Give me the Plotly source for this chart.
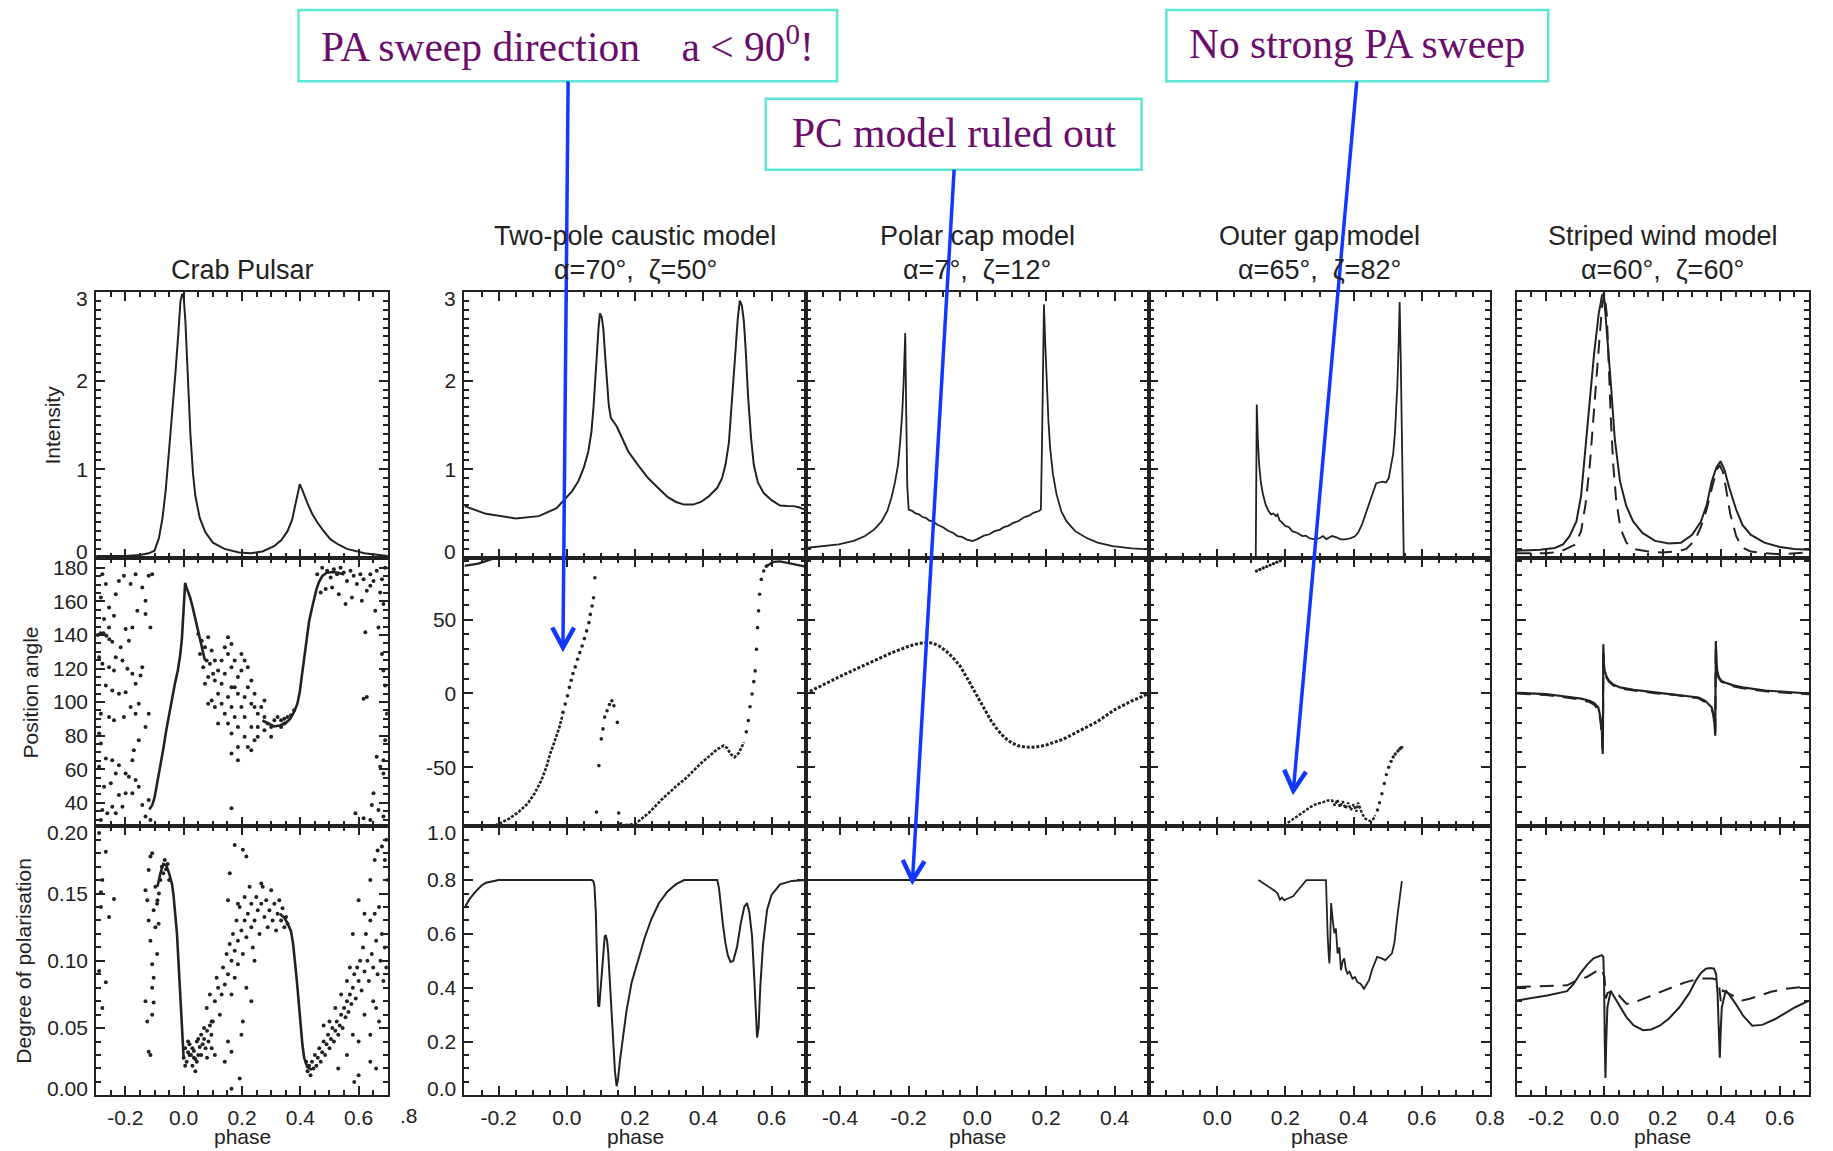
import math
import plotly.graph_objects as go

# ======================= DATA =======================
# ---------- Column 1 : Crab pulsar ----------
crab_int_phase = [-0.3, -0.25, -0.2, -0.15, -0.12, -0.1, -0.085, -0.073, -0.062, -0.051, -0.04, -0.028,
                  -0.018, -0.011, -0.005, 0.0, 0.006, 0.015, 0.023, 0.032, 0.04, 0.055, 0.074, 0.1, 0.14,
                  0.19, 0.23, 0.27, 0.31, 0.335, 0.356, 0.372, 0.384, 0.392, 0.398, 0.405, 0.414, 0.424,
                  0.44, 0.458, 0.48, 0.503, 0.53, 0.56, 0.62, 0.7]
crab_int = [0.02, 0.02, 0.02, 0.03, 0.05, 0.08, 0.22, 0.44, 0.75, 1.18, 1.6, 2.1, 2.55, 2.9, 2.98, 2.95,
            2.66, 1.95, 1.4, 0.95, 0.7, 0.45, 0.29, 0.17, 0.1, 0.06, 0.05, 0.07, 0.13, 0.2, 0.3, 0.43,
            0.6, 0.74, 0.83, 0.78, 0.7, 0.62, 0.5, 0.4, 0.3, 0.21, 0.15, 0.1, 0.05, 0.02]

# dense PA tracks
crab_pa_track1_phase = [-0.118, -0.108, -0.1, -0.09, -0.08, -0.07, -0.06, -0.05, -0.04, -0.03, -0.02, -0.012,
                        -0.006, -0.002, 0.001, 0.005, 0.01, 0.016, 0.022, 0.03, 0.039, 0.05, 0.062, 0.073]
crab_pa_track1 = [36, 38.5, 43, 52, 62, 72, 83, 93, 102, 111, 119, 128, 138, 148, 160, 171, 168, 165, 162.4,
                  157, 150.5, 142.6, 132.7, 124.8]
crab_pa_track2_phase = [0.27, 0.29, 0.31, 0.33, 0.35, 0.365, 0.378, 0.39, 0.398, 0.404, 0.41, 0.416, 0.422,
                        0.43, 0.44, 0.447, 0.455, 0.464, 0.475, 0.49, 0.51, 0.53, 0.55]
crab_pa_track2 = [89, 87, 85.5, 86, 87.5, 90, 94, 99, 106, 114, 122, 130, 138, 148, 156, 162, 167, 171.5, 175,
                  177, 177.5, 177, 176]
# scattered PA points
crab_pa_left_phase = [-0.279, -0.267, -0.284, -0.256, -0.273, -0.239, -0.222, -0.205, -0.182, -0.165, -0.142,
                      -0.12, -0.108, -0.131, -0.159, -0.199, -0.176, -0.188, -0.216, -0.233, -0.256, -0.239,
                      -0.21, -0.193, -0.176, -0.165, -0.142, -0.148, -0.29, -0.279, -0.267, -0.245, -0.222,
                      -0.199, -0.182, -0.154, -0.165, -0.205, -0.239, -0.256, -0.284, -0.29, -0.267, -0.245,
                      -0.222, -0.233, -0.199, -0.188, -0.165, -0.154, -0.176, -0.199, -0.222, -0.245, -0.262,
                      -0.279, -0.284, -0.233, -0.21, -0.142, -0.12, -0.131, -0.114, -0.176, -0.171, -0.154,
                      -0.131, -0.12, -0.256, -0.233, -0.131, -0.114, -0.284, -0.273, -0.29, -0.25, -0.295,
                      -0.285, -0.275, -0.265, -0.255, -0.245]
crab_pa_left = [176.2, 170.3, 162.3, 156.4, 149.5, 151.5, 172.2, 175.2, 170.3, 176.2, 168.3, 175.2, 176.2,
                160.4, 154.4, 143.5, 144.5, 136.6, 132.7, 126.7, 120.8, 118.8, 124.7, 119.8, 116.8, 110.9,
                120.8, 115.9, 126.7, 122.8, 109.9, 106.9, 105, 105.9, 97.1, 99, 93.1, 91.1, 89.1, 91.1, 93.1,
                81.2, 66.4, 65.4, 62.4, 57.5, 57.5, 55.5, 53.5, 49.6, 45.6, 45.6, 44.6, 37.7, 33.8, 35.7, 29.8,
                33.8, 37.7, 38.7, 41.7, 31.8, 29.8, 65.4, 71.3, 77.3, 85.2, 93.1, 144.5, 164.3, 152.4, 144.5,
                75.3, 49.6, 61.4, 51.6, 140, 141, 141, 139.5, 137.5, 136]
crab_pa_mid_phase = [0.05, 0.062, 0.056, 0.073, 0.084, 0.096, 0.079, 0.067, 0.09, 0.107, 0.118, 0.101, 0.084,
                     0.073, 0.107, 0.13, 0.141, 0.164, 0.152, 0.175, 0.164, 0.141, 0.13, 0.118, 0.096, 0.107,
                     0.13, 0.152, 0.164, 0.186, 0.198, 0.175, 0.186, 0.164, 0.141, 0.152, 0.175, 0.198, 0.209,
                     0.22, 0.232, 0.243, 0.232, 0.209, 0.186, 0.164, 0.186, 0.209, 0.232, 0.254, 0.266, 0.277,
                     0.254, 0.243, 0.22, 0.232, 0.254, 0.277, 0.288, 0.3, 0.186, 0.164, 0.118, 0.084, 0.22,
                     0.243, 0.277, 0.3, 0.311, 0.322, 0.334, 0.345, 0.356, 0.368, 0.379, 0.334, 0.345, 0.164,
                     0.152, 0.198, 0.209]
crab_pa_mid = [140.6, 136.6, 128.7, 132.7, 138.6, 130.7, 124.7, 120.8, 122.8, 124.7, 118.8, 116.8, 114.9,
               110.9, 112.9, 124.7, 132.7, 134.6, 128.7, 124.7, 120.8, 116.8, 110.9, 105, 101, 97.1, 99, 103,
               108.9, 114.9, 118.8, 108.9, 105, 97.1, 93.1, 87.2, 91.1, 97.1, 103, 108.9, 112.9, 105, 99, 91.1,
               85.2, 81.2, 73.3, 79.3, 85.2, 93.1, 97.1, 91.1, 85.2, 77.3, 73.3, 71.3, 79.3, 83.2, 87.2, 85.2,
               65.4, 69.4, 87.2, 99, 120.8, 97.1, 101, 79.3, 89.1, 91.1, 89.1, 87.2, 91.1, 92.1, 95.1, 85.2,
               90.1, 36.7, 138.6, 128.7, 124.7]
crab_pa_right_phase = [0.458, 0.475, 0.492, 0.504, 0.515, 0.526, 0.538, 0.549, 0.56, 0.572, 0.583, 0.594,
                       0.606, 0.617, 0.628, 0.64, 0.651, 0.662, 0.674, 0.685, 0.691, 0.555, 0.532, 0.577,
                       0.611, 0.509, 0.487, 0.47, 0.64, 0.68, 0.657, 0.623, 0.628, 0.617, 0.662, 0.674, 0.685,
                       0.651, 0.645, 0.668, 0.685, 0.589, 0.617, 0.64, 0.685, 0.691, 0.68, 0.668, 0.697,
                       0.691, 0.685]
crab_pa_right = [176.2, 180.1, 178.2, 174.2, 179.2, 176.2, 180.1, 177.2, 172.2, 178.2, 175.2, 170.3, 176.2,
                 173.2, 166.3, 169.3, 172.2, 178.2, 165.3, 158.4, 180.1, 158.4, 164.3, 162.3, 160.4, 168.3,
                 167.3, 165.3, 176.2, 173.2, 154.4, 141.6, 103, 102, 67.4, 61.4, 57.5, 45.6, 38.7, 35.7, 31.8,
                 33.8, 30.8, 29.8, 118.8, 109.9, 128.7, 144.5, 93.1, 77.3, 65.4]

# degree of polarisation
crab_pol_track1_phase = [-0.09, -0.08, -0.07, -0.06, -0.05, -0.04, -0.035, -0.029, -0.023, -0.018, -0.013,
                         -0.009, -0.005, -0.002, 0.0]
crab_pol_track1 = [0.155, 0.165, 0.172, 0.171, 0.165, 0.157, 0.149, 0.137, 0.12, 0.10, 0.082, 0.065, 0.048,
                   0.034, 0.027]
crab_pol_track2_phase = [0.33, 0.345, 0.356, 0.368, 0.375, 0.381, 0.386, 0.391, 0.396, 0.402, 0.407, 0.413,
                         0.424, 0.44]
crab_pol_track2 = [0.135, 0.132, 0.128, 0.122, 0.113, 0.102, 0.09, 0.078, 0.065, 0.05, 0.038, 0.028, 0.021,
                   0.019]
crab_pol_left_phase = [-0.29, -0.267, -0.279, -0.284, -0.239, -0.256, -0.29, -0.267, -0.279, -0.284,
                       -0.131, -0.125, -0.12, -0.114, -0.108, -0.103, -0.108, -0.103, -0.108, -0.114, -0.12,
                       -0.125, -0.131, -0.12, -0.114, -0.108, -0.097, -0.091, -0.086, -0.097, -0.091, -0.103,
                       -0.08, -0.075, -0.07, -0.065, -0.06, -0.055, -0.05, -0.085, -0.09]
crab_pol_left = [0.195, 0.181, 0.16, 0.151, 0.146, 0.1325, 0.0925, 0.084, 0.065, 0.14,
                 0.07, 0.055, 0.0325, 0.03, 0.06, 0.069, 0.08, 0.0875, 0.0975, 0.115, 0.13, 0.145, 0.1525,
                 0.1675, 0.1775, 0.18, 0.155, 0.1425, 0.1275, 0.125, 0.105, 0.1375,
                 0.16, 0.17, 0.165, 0.175, 0.168, 0.172, 0.16, 0.15, 0.145]
crab_pol_low_phase = [0.0, 0.005, 0.01, 0.015, 0.02, 0.025, 0.03, 0.035, 0.04, 0.045, 0.05, 0.055, 0.06,
                      0.065, 0.07, 0.075, 0.08, 0.085, 0.09, 0.005, 0.015, 0.03, 0.045, 0.06, 0.04, 0.07, 0.08,
                      0.095, 0.1, 0.02, 0.035, 0.05]
crab_pol_low = [0.028, 0.035, 0.025, 0.032, 0.038, 0.03, 0.022, 0.033, 0.027, 0.04, 0.03, 0.036, 0.045, 0.038,
                0.042, 0.035, 0.048, 0.04, 0.052, 0.022, 0.04, 0.035, 0.025, 0.03, 0.018, 0.05, 0.028, 0.045,
                0.055, 0.03, 0.028, 0.042]
crab_pol_mid_phase = [0.079, 0.09, 0.096, 0.107, 0.113, 0.118, 0.124, 0.13, 0.135, 0.141, 0.147, 0.152,
                      0.158, 0.164, 0.164, 0.169, 0.175, 0.175, 0.181, 0.186, 0.186, 0.192, 0.198, 0.203,
                      0.209, 0.209, 0.215, 0.22, 0.226, 0.232, 0.232, 0.237, 0.243, 0.249, 0.254, 0.26, 0.266,
                      0.271, 0.277, 0.283, 0.288, 0.294, 0.3, 0.305, 0.311, 0.317, 0.322, 0.328, 0.334, 0.339,
                      0.345, 0.351, 0.356, 0.152, 0.158, 0.175, 0.203, 0.215, 0.164, 0.198, 0.141, 0.164,
                      0.192, 0.203, 0.232, 0.107, 0.096, 0.152, 0.215, 0.243, 0.186, 0.266]
crab_pol_mid = [0.065, 0.075, 0.055, 0.07, 0.0875, 0.08, 0.06, 0.075, 0.095, 0.0825, 0.105, 0.09, 0.1125,
                0.10, 0.075, 0.12, 0.0875, 0.1075, 0.13, 0.0975, 0.115, 0.14, 0.1225, 0.105, 0.13, 0.1475,
                0.1175, 0.135, 0.155, 0.125, 0.1425, 0.11, 0.13, 0.1475, 0.1375, 0.12, 0.1425, 0.155, 0.1325,
                0.145, 0.125, 0.1375, 0.1525, 0.13, 0.1425, 0.1225, 0.135, 0.145, 0.13, 0.139, 0.125, 0.1325,
                0.1275, 0.145, 0.165, 0.186, 0.1825, 0.1775, 0.0325, 0.045, 0.025, 0.005, 0.0125, 0.055,
                0.07, 0.03, 0.035, 0.04, 0.08, 0.10, 0.1425, 0.1575]
crab_pol_right_phase = [0.42, 0.425, 0.43, 0.435, 0.44, 0.445, 0.45, 0.455, 0.46, 0.465, 0.47, 0.475, 0.48,
                        0.485, 0.49, 0.495, 0.5, 0.505, 0.51, 0.515, 0.52, 0.525, 0.53, 0.535, 0.54, 0.545,
                        0.55, 0.555, 0.56, 0.565, 0.57, 0.575, 0.58, 0.585, 0.59, 0.595, 0.6, 0.605, 0.61,
                        0.615, 0.62, 0.625, 0.63, 0.635, 0.64, 0.645, 0.65, 0.655, 0.66, 0.665, 0.67, 0.675,
                        0.68, 0.685, 0.69, 0.695, 0.53, 0.56, 0.58, 0.6, 0.62, 0.64, 0.65, 0.66, 0.67, 0.585,
                        0.6, 0.64, 0.66, 0.58, 0.6, 0.62, 0.64, 0.655, 0.665, 0.68, 0.69, 0.695, 0.7, 0.5, 0.48,
                        0.52, 0.54, 0.56, 0.57]
crab_pol_right = [0.025, 0.018, 0.022, 0.015, 0.025, 0.02, 0.03, 0.022, 0.028, 0.035, 0.025, 0.032, 0.04,
                  0.03, 0.038, 0.045, 0.035, 0.042, 0.05, 0.04, 0.048, 0.055, 0.045, 0.052, 0.06, 0.05, 0.065,
                  0.058, 0.07, 0.062, 0.075, 0.068, 0.08, 0.09, 0.072, 0.095, 0.085, 0.1, 0.078, 0.11, 0.092,
                  0.12, 0.1, 0.085, 0.13, 0.105, 0.095, 0.135, 0.115, 0.09, 0.14, 0.1, 0.12, 0.085, 0.11,
                  0.095, 0.02, 0.03, 0.045, 0.04, 0.06, 0.045, 0.07, 0.065, 0.055, 0.01, 0.015, 0.025, 0.02,
                  0.12, 0.145, 0.135, 0.16, 0.175, 0.182, 0.185, 0.175, 0.19, 0.16, 0.055, 0.052, 0.065,
                  0.075, 0.085, 0.095]

# ---------- Column 2 : two-pole caustic model ----------
tp_int_phase = [-0.3, -0.237, -0.15, -0.082, -0.03, -0.009, 0.015, 0.034, 0.05, 0.063, 0.072, 0.078, 0.084,
                0.088, 0.093, 0.097, 0.102, 0.107, 0.112, 0.117, 0.123, 0.129, 0.137, 0.146, 0.16, 0.18, 0.21,
                0.238, 0.27, 0.296, 0.32, 0.344, 0.37, 0.393, 0.415, 0.441, 0.455, 0.465, 0.475, 0.483, 0.49,
                0.495, 0.501, 0.507, 0.513, 0.519, 0.525, 0.531, 0.54, 0.548, 0.56, 0.577, 0.6, 0.625, 0.645,
                0.664, 0.68, 0.693, 0.7]
tp_int = [0.583, 0.496, 0.444, 0.47, 0.56, 0.647, 0.75, 0.865, 1.02, 1.2, 1.42, 1.69, 2.0, 2.29, 2.6, 2.76,
          2.72, 2.59, 2.3, 1.99, 1.72, 1.58, 1.53, 1.485, 1.37, 1.2, 1.04, 0.9, 0.78, 0.684, 0.63, 0.6, 0.6,
          0.63, 0.69, 0.79, 0.9, 1.05, 1.3, 1.69, 2.05, 2.37, 2.7, 2.905, 2.85, 2.67, 2.3, 1.84, 1.35, 1.05,
          0.85, 0.73, 0.65, 0.59, 0.585, 0.583, 0.57, 0.55, 0.54]
tp_pa_wrap_phase = [-0.3, -0.28, -0.26, -0.24, -0.22]
tp_pa_wrap = [86.5, 87, 88, 89.5, 91]
tp_pa_branch1_phase = [-0.21, -0.17, -0.14, -0.115, -0.095, -0.075, -0.06, -0.049, -0.035, -0.022, -0.013]
tp_pa_branch1 = [-89.5, -85, -80, -74.7, -68, -59, -50, -41, -32, -23, -15]
tp_pa_branch2_phase = [0.158, 0.2, 0.24, 0.285, 0.32, 0.352, 0.39, 0.419, 0.44, 0.459, 0.47, 0.48, 0.492,
                       0.505, 0.519]
tp_pa_branch2 = [-89.5, -88.5, -81, -70.3, -63, -56.8, -48, -42.1, -38, -35.3, -37, -41, -43.2, -40, -33.1]
tp_pa_top_phase = [0.585, 0.605, 0.625, 0.645, 0.67, 0.7]
tp_pa_top = [86.3, 89.2, 89.5, 88.5, 87.5, 86]
tp_pa_dots_phase = [-0.0113, -0.0047, 0.002, 0.0075, 0.0128, 0.018, 0.0247, 0.0314, 0.038, 0.0448, 0.0515,
                    0.058, 0.0648, 0.0689, 0.0741, 0.0782, 0.0823,
                    0.087, 0.094, 0.101, 0.106, 0.111, 0.118, 0.125, 0.132, 0.138, 0.148, 0.152, 0.158,
                    0.526, 0.532, 0.537, 0.543, 0.548, 0.552, 0.556, 0.559, 0.562, 0.565, 0.57, 0.577, 0.585]
tp_pa_dots = [-12.8, -7.2, -1.6, 4.1, 9.0, 13.5, 18, 23.2, 27.7, 32.2, 37.2, 42.4, 48, 53.6, 59.3, 64.9, 78.4,
              -80.4, -48.9, -30.8, -24, -16, -11.7, -7.5, -4.9, -8.3, -19.6, -81, -88.3,
              -26, -18.4, -9, -0.4, 8, 15.3, 30, 44.6, 56, 67.2, 77.3, 83, 86.3]
tp_pol_phase = [-0.3, -0.285, -0.266, -0.25, -0.237, -0.22, -0.2, 0.073, 0.078, 0.081, 0.085, 0.088, 0.092,
                0.095, 0.098, 0.102, 0.107, 0.111, 0.114, 0.118, 0.1215, 0.126, 0.131, 0.136, 0.141, 0.146,
                0.15, 0.1555, 0.165, 0.175, 0.19, 0.209, 0.228, 0.247, 0.27, 0.296, 0.32, 0.344, 0.441, 0.446,
                0.451, 0.458, 0.465, 0.472, 0.48, 0.488, 0.499, 0.51, 0.52, 0.528, 0.535, 0.543, 0.55, 0.5576,
                0.562, 0.567, 0.575, 0.587, 0.6, 0.625, 0.66, 0.7]
tp_pol = [0.696, 0.73, 0.759, 0.78, 0.79, 0.795, 0.8, 0.8, 0.795, 0.778, 0.68, 0.5275, 0.334, 0.33, 0.378,
          0.47, 0.5525, 0.59, 0.596, 0.575, 0.5275, 0.42, 0.2775, 0.17, 0.09, 0.034, 0.06, 0.1275, 0.23,
          0.315, 0.42, 0.5025, 0.585, 0.6525, 0.715, 0.759, 0.785, 0.8, 0.8, 0.77, 0.7025, 0.63, 0.565, 0.52,
          0.496, 0.5, 0.5525, 0.64, 0.7, 0.715, 0.68, 0.59, 0.42, 0.215, 0.25, 0.4025, 0.56, 0.69, 0.745,
          0.784, 0.797, 0.8]

# ---------- Column 3 : polar cap model ----------
pc_int_phase = [-0.5, -0.45, -0.404, -0.36, -0.327, -0.3, -0.279, -0.262, -0.25, -0.24, -0.231, -0.225,
                -0.219, -0.215, -0.213, -0.21, -0.207, -0.204, -0.2,
                -0.19, -0.18, -0.17, -0.16, -0.15, -0.14, -0.13, -0.115, -0.1, -0.085, -0.07, -0.058, -0.045,
                -0.03, -0.014, 0.0, 0.019, 0.035, 0.05, 0.065, 0.077, 0.09, 0.105, 0.12, 0.135, 0.15, 0.165,
                0.178, 0.185,
                0.188, 0.191, 0.194, 0.198, 0.202, 0.207, 0.212, 0.22, 0.231, 0.245, 0.26, 0.285, 0.317,
                0.35, 0.394, 0.45, 0.5]
pc_int = [0.11, 0.13, 0.15, 0.19, 0.245, 0.32, 0.41, 0.53, 0.68, 0.85, 1.05, 1.3, 1.62, 1.95, 2.18, 2.54,
          1.6, 0.8, 0.545,
          0.53, 0.5, 0.49, 0.46, 0.45, 0.42, 0.41, 0.37, 0.345, 0.305, 0.28, 0.245, 0.235, 0.205, 0.188, 0.21,
          0.25, 0.265, 0.3, 0.315, 0.345, 0.36, 0.395, 0.415, 0.455, 0.475, 0.51, 0.525, 0.545,
          1.2, 2.0, 2.86, 2.4, 1.99, 1.55, 1.24, 0.95, 0.71, 0.52, 0.41, 0.3, 0.225, 0.17, 0.13, 0.105, 0.094]
pc_pa_phase = [-0.5, -0.45, -0.4, -0.35, -0.3, -0.25, -0.2, -0.17, -0.15, -0.13, -0.11, -0.09, -0.07, -0.05,
               -0.03, -0.01, 0.0, 0.02, 0.04, 0.06, 0.08, 0.1, 0.12, 0.14, 0.16, 0.18, 0.2, 0.25, 0.3, 0.35,
               0.4, 0.45, 0.5]
pc_pa = [0, 6, 11.5, 17, 22.5, 27.5, 32, 34, 34.5, 34.2, 32, 28.5, 24, 18.5, 10.5, 2, -2.5, -11, -18.5, -25,
         -30, -33.5, -35.5, -36.3, -36.5, -36, -35, -31, -25, -19, -11, -5, 0]
pc_pol_phase = [-0.5, -0.27, 0.28, 0.5]
pc_pol = [0.8, 0.8, 0.8, 0.8]

# ---------- Column 4 : outer gap model ----------
og_int_phase = [0.113, 0.114, 0.116, 0.119, 0.123, 0.128, 0.134, 0.142, 0.15, 0.158, 0.165, 0.172, 0.177,
                0.183, 0.19, 0.2, 0.209, 0.22, 0.235, 0.25, 0.26, 0.27, 0.286, 0.3, 0.31, 0.32, 0.337, 0.35,
                0.362, 0.375, 0.39, 0.403, 0.413, 0.425, 0.439, 0.45, 0.458, 0.466, 0.474, 0.485, 0.495,
                0.503, 0.51, 0.516, 0.521, 0.525, 0.528, 0.532, 0.535, 0.538, 0.541, 0.544, 0.547]
og_int = [0.0, 0.9, 1.73, 1.35, 1.05, 0.85, 0.72, 0.6, 0.53, 0.49, 0.5, 0.47, 0.49, 0.42, 0.4, 0.357, 0.35,
          0.3, 0.28, 0.245, 0.25, 0.22, 0.207, 0.22, 0.245, 0.21, 0.245, 0.23, 0.207, 0.207, 0.22, 0.24,
          0.282, 0.38, 0.53, 0.65, 0.75, 0.84, 0.85, 0.86, 0.85, 0.9, 1.05, 1.17, 1.4, 1.7, 1.92, 2.4, 2.89,
          2.3, 1.54, 0.6, 0.0]
og_pa_track_phase = [0.196, 0.215, 0.234, 0.255, 0.273, 0.29, 0.311, 0.325, 0.337, 0.345, 0.352, 0.36,
                     0.368, 0.376, 0.384, 0.392, 0.4, 0.408, 0.413, 0.42, 0.426, 0.435, 0.449, 0.458, 0.464]
og_pa_track = [-89.4, -86.5, -83.8, -80, -77, -75, -73.6, -72.5, -72.5, -76, -72, -77, -73, -78, -74, -79,
               -75, -80, -74, -79, -82, -85, -86.5, -85, -82.6]
og_pa_dots_phase = [0.47, 0.476, 0.483, 0.49, 0.496, 0.503, 0.51, 0.516, 0.522, 0.53, 0.536, 0.541,
                    0.115, 0.125, 0.135, 0.145, 0.155, 0.165, 0.175, 0.185]
og_pa_dots = [-79, -74, -68, -61, -55, -50, -46, -43, -41, -39, -37.5, -36.5,
              83, 84, 85, 86, 87, 88, 89, 90]
og_pol_phase = [0.121, 0.133, 0.1455, 0.158, 0.17, 0.177, 0.184, 0.19, 0.197, 0.2035, 0.213, 0.2226, 0.232,
                0.242, 0.252, 0.2614, 0.319, 0.321, 0.324, 0.327, 0.329, 0.331, 0.334, 0.3386, 0.3435, 0.348,
                0.353, 0.358, 0.363, 0.368, 0.3725, 0.377, 0.382, 0.388, 0.3966, 0.404, 0.411, 0.42, 0.4304,
                0.437, 0.445, 0.455, 0.469, 0.48, 0.493, 0.5125, 0.52, 0.527, 0.535, 0.5415]
og_pol = [0.8, 0.79, 0.78, 0.77, 0.759, 0.75, 0.7275, 0.735, 0.725, 0.73, 0.735, 0.74, 0.755, 0.771, 0.787,
          0.8, 0.8, 0.7, 0.59, 0.52, 0.49, 0.55, 0.715, 0.6525, 0.6025, 0.62, 0.5275, 0.55, 0.465, 0.5, 0.509,
          0.47, 0.4525, 0.46, 0.434, 0.44, 0.421, 0.415, 0.396, 0.41, 0.4275, 0.47, 0.515, 0.51, 0.5025,
          0.5275, 0.57, 0.6525, 0.74, 0.796]

# ---------- Column 5 : striped wind model (solid and dashed) ----------
sw_int_phase = [-0.3, -0.22, -0.17, -0.142, -0.12, -0.096, -0.08, -0.067, -0.05, -0.036, -0.02, -0.008,
                -0.002, 0.005, 0.012, 0.023, 0.035, 0.053, 0.075, 0.098, 0.13, 0.173, 0.22, 0.262, 0.3, 0.33,
                0.35, 0.367, 0.383, 0.397, 0.41, 0.427, 0.45, 0.472, 0.5, 0.547, 0.6, 0.65, 0.7]
sw_int = [0.08, 0.09, 0.11, 0.15, 0.24, 0.41, 0.7, 1.17, 1.75, 2.29, 2.75, 2.97, 2.98, 2.7, 2.35, 1.92, 1.35,
          0.865, 0.58, 0.41, 0.28, 0.19, 0.16, 0.17, 0.26, 0.41, 0.6, 0.865, 1.02, 1.09, 1.0, 0.79, 0.55,
          0.37, 0.26, 0.17, 0.12, 0.1, 0.09]
sw_int_d_phase = [-0.3, -0.2, -0.15, -0.1, -0.08, -0.065, -0.05, -0.035, -0.02, -0.008, 0.0, 0.008, 0.015,
                  0.022, 0.03, 0.04, 0.055, 0.075, 0.1, 0.15, 0.2, 0.25, 0.28, 0.31, 0.33, 0.35, 0.37, 0.385,
                  0.395, 0.405, 0.415, 0.43, 0.45, 0.47, 0.5, 0.55, 0.6, 0.65, 0.7]
sw_int_d = [0.05, 0.05, 0.07, 0.15, 0.3, 0.6, 1.05, 1.65, 2.35, 2.85, 2.98, 2.75, 2.1, 1.55, 1.05, 0.65, 0.33,
            0.17, 0.1, 0.07, 0.06, 0.07, 0.1, 0.2, 0.35, 0.55, 0.82, 1.0, 1.04, 0.97, 0.8, 0.5, 0.25, 0.12,
            0.07, 0.05, 0.04, 0.05, 0.06]
sw_pa_phase = [-0.3, -0.2, -0.126, -0.08, -0.051, -0.035, -0.021, -0.014, -0.009, -0.006, -0.005, -0.004,
               -0.002, 0.001, 0.008, 0.016, 0.03, 0.053, 0.1, 0.173, 0.25, 0.322, 0.345, 0.36, 0.367, 0.373,
               0.376, 0.379, 0.38, 0.381, 0.383, 0.386, 0.391, 0.4, 0.412, 0.44, 0.472, 0.55, 0.62, 0.7]
sw_pa = [0.5, -0.5, -2.2, -3.5, -4.9, -6.5, -9.5, -16, -25, -41, -20, 33.4, 20, 15, 11, 8.6, 6, 4.1, 2.5, 0.7,
         -0.8, -2.7, -5, -8, -9.5, -14, -19, -28.6, 0, 35.6, 22, 15, 11, 8.5, 7.4, 5.5, 4.1, 2, 1, 0]
sw_pa_d = [0, -1, -2.8, -4.2, -5.8, -7.5, -11, -18, -27, -38, -18, 30, 19, 14.5, 10.5, 8, 5.5, 3.6, 2, 0.3,
           -1.2, -3.2, -5.8, -9, -10.5, -15, -20, -26, 2, 33, 21, 14.5, 10.5, 8, 7, 5, 3.6, 1.5, 0.5, -0.5]
sw_pol_phase = [-0.3, -0.196, -0.128, -0.105, -0.083, -0.06, -0.0374, -0.02, -0.009, -0.004, -0.0014, 0.001,
                0.0033, 0.006, 0.01, 0.0213, 0.0417, 0.0756, 0.1, 0.132, 0.16, 0.189, 0.22, 0.2565, 0.29,
                0.313, 0.33, 0.347, 0.362, 0.375, 0.382, 0.387, 0.391, 0.3946, 0.398, 0.4014, 0.415, 0.43,
                0.449, 0.475, 0.5055, 0.54, 0.5846, 0.62, 0.6525, 0.7]
sw_pol = [0.3525, 0.371, 0.3875, 0.415, 0.4525, 0.485, 0.509, 0.518, 0.521, 0.515, 0.4275, 0.2, 0.065, 0.2,
          0.3275, 0.3875, 0.3525, 0.29, 0.26, 0.2425, 0.245, 0.259, 0.285, 0.3275, 0.38, 0.4275, 0.455, 0.471,
          0.473, 0.471, 0.45, 0.3775, 0.25, 0.14, 0.25, 0.3275, 0.39, 0.37, 0.34, 0.295, 0.259, 0.262, 0.2838,
          0.305, 0.3275, 0.3525]
sw_pol_d_phase = [-0.3, -0.2, -0.128, -0.094, -0.06, -0.03, -0.01, 0.0, 0.005, 0.01, 0.02, 0.03, 0.05, 0.0756,
                  0.1, 0.132, 0.17, 0.2, 0.24, 0.279, 0.3244, 0.37, 0.385, 0.392, 0.398, 0.405, 0.415, 0.44,
                  0.4716, 0.5, 0.528, 0.57, 0.6186, 0.66, 0.7]
sw_pol_d = [0.4025, 0.405, 0.409, 0.4275, 0.44, 0.46, 0.47, 0.44, 0.36, 0.38, 0.385, 0.39, 0.37, 0.34, 0.345,
            0.359, 0.375, 0.39, 0.405, 0.421, 0.434, 0.434, 0.43, 0.41, 0.35, 0.39, 0.384, 0.37, 0.3525, 0.36,
            0.371, 0.385, 0.396, 0.402, 0.405]

# ---------- axes / labels ----------
col_titles = [["Crab Pulsar"],
              ["Two-pole caustic model", "α=70°,\u00a0 ζ=50°"],
              ["Polar cap model", "α=7°,\u00a0 ζ=12°"],
              ["Outer gap model", "α=65°,\u00a0 ζ=82°"],
              ["Striped wind model", "α=60°,\u00a0 ζ=60°"]]
x_ranges = [[-0.3, 0.7], [-0.3, 0.7], [-0.5, 0.5], [-0.2, 0.8], [-0.3, 0.7]]
x_tickvals = [[-0.2, 0, 0.2, 0.4, 0.6], [-0.2, 0, 0.2, 0.4, 0.6], [-0.4, -0.2, 0, 0.2, 0.4],
              [0, 0.2, 0.4, 0.6, 0.8], [-0.2, 0, 0.2, 0.4, 0.6]]
x_ticktext = [["-0.2", "0.0", "0.2", "0.4", "0.6"], ["-0.2", "0.0", "0.2", "0.4", "0.6"],
              ["-0.4", "-0.2", "0.0", "0.2", "0.4"], ["0.0", "0.2", "0.4", "0.6", "0.8"],
              ["-0.2", "0.0", "0.2", "0.4", "0.6"]]
int_ticks = [0, 1, 2, 3]
int_text = ["0", "1", "2", "3"]
crab_pa_ticks = [40, 60, 80, 100, 120, 140, 160, 180]
crab_pa_text = ["40", "60", "80", "100", "120", "140", "160", "180"]
model_pa_ticks = [-50, 0, 50]
model_pa_text = ["-50", "0", "50"]
crab_pol_ticks = [0, 0.05, 0.10, 0.15, 0.20]
crab_pol_text = ["0.00", "0.05", "0.10", "0.15", "0.20"]
model_pol_ticks = [0, 0.2, 0.4, 0.6, 0.8, 1.0]
model_pol_text = ["0.0", "0.2", "0.4", "0.6", "0.8", "1.0"]
row_titles = ["Intensity", "Position angle", "Degree of polarisation"]
notes = ["PA sweep direction\u00a0\u00a0\u00a0 a &lt; 90<sup>0</sup>!", "PC model ruled out", "No strong PA sweep"]

# ======================= FIGURE =======================
W, H = 1833, 1151
INK = "#222222"
SANS = "Liberation Sans, Arial, sans-serif"
SERIF = "Liberation Serif, Times New Roman, serif"
# panel frames in picture pixels
COL_PX = [(97, 391), (468.3, 812.3), (812.3, 1158.5), (1158.5, 1502.3), (1529.3, 1824)]
ROW_PX = [(290.7, 556.7), (556.7, 825.7), (825.7, 1095.3)]


def clamp(v):
    return min(1.0, max(0.0, v))


def PX(x):
    return x / W


def PY(y):
    return 1 - y / H


fig = go.Figure()


def names(col, row):
    i = row * 5 + col + 1
    s = "" if i == 1 else str(i)
    return "x" + s, "y" + s, "xaxis" + s, "yaxis" + s


def add_line(col, row, xs, ys, width=2.0, dash="solid"):
    xa, ya, _, _ = names(col, row)
    fig.add_trace(go.Scatter(x=xs, y=ys, mode="lines", xaxis=xa, yaxis=ya, hoverinfo="skip",
                             showlegend=False, line=dict(color=INK, width=width, dash=dash)))


def add_dots(col, row, xs, ys, size=4.0):
    xa, ya, _, _ = names(col, row)
    fig.add_trace(go.Scatter(x=xs, y=ys, mode="markers", xaxis=xa, yaxis=ya, hoverinfo="skip",
                             showlegend=False, cliponaxis=True,
                             marker=dict(color=INK, size=size, line=dict(width=0))))


# column 1
add_line(0, 0, crab_int_phase, crab_int, 2.0)
add_line(0, 1, crab_pa_track1_phase, crab_pa_track1, 2.6)
add_line(0, 1, crab_pa_track2_phase, crab_pa_track2, 2.6)
add_dots(0, 1, crab_pa_left_phase, crab_pa_left)
add_dots(0, 1, crab_pa_mid_phase, crab_pa_mid)
add_dots(0, 1, crab_pa_right_phase, crab_pa_right)
add_line(0, 2, crab_pol_track1_phase, crab_pol_track1, 2.6)
add_line(0, 2, crab_pol_track2_phase, crab_pol_track2, 2.6)
add_dots(0, 2, crab_pol_left_phase, crab_pol_left)
add_dots(0, 2, crab_pol_low_phase, crab_pol_low)
add_dots(0, 2, crab_pol_mid_phase, crab_pol_mid)
add_dots(0, 2, crab_pol_right_phase, crab_pol_right)
# column 2
add_line(1, 0, tp_int_phase, tp_int, 2.0)
add_line(1, 1, tp_pa_wrap_phase, tp_pa_wrap, 2.4)
add_line(1, 1, tp_pa_branch1_phase, tp_pa_branch1, 2.6, "3px,1.5px")
add_line(1, 1, tp_pa_branch2_phase, tp_pa_branch2, 2.6, "3px,1.5px")
add_line(1, 1, tp_pa_top_phase, tp_pa_top, 2.4)
add_dots(1, 1, tp_pa_dots_phase, tp_pa_dots, 3.6)
add_line(1, 2, tp_pol_phase, tp_pol, 2.0)
# column 3
add_line(2, 0, pc_int_phase, pc_int, 1.8)
add_line(2, 1, pc_pa_phase, pc_pa, 3.0, "3px,1.8px")
add_line(2, 2, pc_pol_phase, pc_pol, 2.0)
# column 4
add_line(3, 0, og_int_phase, og_int, 1.8)
add_line(3, 1, og_pa_track_phase, og_pa_track, 2.4, "3px,1.5px")
add_dots(3, 1, og_pa_dots_phase, og_pa_dots, 3.4)
add_line(3, 2, og_pol_phase, og_pol, 1.8)
# column 5
add_line(4, 0, sw_int_phase, sw_int, 2.0)
add_line(4, 0, sw_int_d_phase, sw_int_d, 2.0, "14px,9px")
add_line(4, 1, sw_pa_phase, sw_pa, 2.2)
add_line(4, 1, sw_pa_phase, sw_pa_d, 2.2, "14px,9px")
add_line(4, 2, sw_pol_phase, sw_pol, 2.0)
add_line(4, 2, sw_pol_d_phase, sw_pol_d, 2.0, "14px,9px")

layout = dict(width=W, height=H, margin=dict(l=0, r=0, t=0, b=0, pad=0), paper_bgcolor="white",
              plot_bgcolor="white", showlegend=False)
tickfont = dict(family=SANS, size=21, color=INK)
annotations = []
shapes = []

for row in range(3):
    for col in range(5):
        xa, ya, xk, yk = names(col, row)
        x0, x1 = COL_PX[col]
        y0, y1 = ROW_PX[row]
        layout[xk] = dict(domain=[clamp(PX(x0)), clamp(PX(x1))], anchor=ya, range=x_ranges[col],
                          showline=True, mirror="allticks", linecolor=INK, linewidth=2, ticks="inside",
                          ticklen=9, tickwidth=2, tickcolor=INK, tickmode="array", tickvals=x_tickvals[col],
                          ticktext=x_ticktext[col], showticklabels=(row == 2), tickfont=tickfont,
                          ticklabelstandoff=2, showgrid=False, zeroline=False, fixedrange=True,
                          minor=dict(dtick=0.05, tick0=0, ticks="inside", ticklen=5, tickwidth=1.6,
                                     tickcolor=INK, showgrid=False))
        if row == 0:
            yr, tv, tt, mdt = [0, 3], int_ticks, int_text, 0.1
        elif row == 1:
            if col == 0:
                yr, tv, tt, mdt = [26, 186], crab_pa_ticks, crab_pa_text, 5
            else:
                yr, tv, tt, mdt = [-90, 92], model_pa_ticks, model_pa_text, 10
        else:
            if col == 0:
                yr, tv, tt, mdt = [0, 0.2], crab_pol_ticks, crab_pol_text, 0.01
            else:
                yr, tv, tt, mdt = [0, 1], model_pol_ticks, model_pol_text, 0.05
        shown = list(tt)
        if col <= 1 and row != 1:
            # labels sitting on the frame corners are nudged inside the frame, as in the picture
            shown[0] = ""
            shown[-1] = ""
            for lab, yy in ((tt[0], y1 - 6.5), (tt[-1], y0 + 6)):
                annotations.append(dict(text=lab, x=PX(x0 - 6.5), y=PY(yy), xref="paper", yref="paper",
                                        xanchor="right", yanchor="middle", showarrow=False, font=tickfont))
        layout[yk] = dict(domain=[clamp(PY(y1)), clamp(PY(y0))], anchor=xa, range=yr, showline=True,
                          mirror="allticks", linecolor=INK, linewidth=2, ticks="inside", ticklen=9,
                          tickwidth=2, tickcolor=INK, tickmode="array", tickvals=tv, ticktext=shown,
                          showticklabels=(col <= 1), tickfont=tickfont, ticklabelstandoff=2,
                          showgrid=False, zeroline=False, fixedrange=True,
                          minor=dict(dtick=mdt, tick0=0, ticks="inside", ticklen=5, tickwidth=1.6,
                                     tickcolor=INK, showgrid=False))

# column titles and x-axis titles
for col, lines in enumerate(col_titles):
    cx = (COL_PX[col][0] + COL_PX[col][1]) / 2
    ys = [268] if len(lines) == 1 else [234.5, 268]
    for txt, yy in zip(lines, ys):
        annotations.append(dict(text=txt, x=PX(cx), y=PY(yy), xref="paper", yref="paper",
                                xanchor="center", yanchor="middle", showarrow=False,
                                font=dict(family=SANS, size=27, color=INK)))
    annotations.append(dict(text="phase", x=PX(cx), y=PY(1136), xref="paper", yref="paper",
                            xanchor="center", yanchor="middle", showarrow=False,
                            font=dict(family=SANS, size=21, color=INK)))
# row titles
for txt, (xx, yy) in zip(row_titles, [(53, 423.7), (31.7, 691.2), (24, 960.5)]):
    annotations.append(dict(text=txt, x=PX(xx), y=PY(yy), xref="paper", yref="paper", textangle=-90,
                            xanchor="center", yanchor="middle", showarrow=False,
                            font=dict(family=SANS, size=21, color=INK)))
annotations.append(dict(text=".8", x=PX(412), y=PY(1115), xref="paper", yref="paper", xanchor="center",
                        yanchor="middle", showarrow=False, font=dict(family=SANS, size=21, color=INK)))

# note boxes
BOXES = [(301, 8, 844, 79.5), (772, 97, 1151, 168), (1176, 8, 1561, 79.5)]
for (bx0, by0, bx1, by1), txt in zip(BOXES, notes):
    shapes.append(dict(type="rect", xref="paper", yref="paper", x0=PX(bx0), x1=PX(bx1), y0=PY(by1),
                       y1=PY(by0), line=dict(color="#5ee6d3", width=2.5), fillcolor="white", layer="above"))
    annotations.append(dict(text=txt, x=PX((bx0 + bx1) / 2), y=PY((by0 + by1) / 2 - 1.5), xref="paper",
                            yref="paper", xanchor="center", yanchor="middle", showarrow=False,
                            font=dict(family=SERIF, size=41.5, color="#6b0d6b")))

# arrows (tail -> tip, picture pixels)
BLUE = "#1238ff"
ARROWS = [((572.8, 79.5), (567.6, 646.7)), ((962, 168), (920, 880)), ((1368, 79.5), (1304, 790))]
for (tx, ty), (hx, hy) in ARROWS:
    shapes.append(dict(type="line", xref="paper", yref="paper", x0=PX(tx), y0=PY(ty), x1=PX(hx),
                       y1=PY(hy), line=dict(color=BLUE, width=3.5), layer="above"))
    L = math.hypot(hx - tx, hy - ty)
    dx, dy = (hx - tx) / L, (hy - ty) / L
    nx, ny = -dy, dx
    ax_, ay_ = hx - 20 * dx + 11 * nx, hy - 20 * dy + 11 * ny
    bx_, by_ = hx - 20 * dx - 11 * nx, hy - 20 * dy - 11 * ny
    path = "M{:.5f},{:.5f} L{:.5f},{:.5f} L{:.5f},{:.5f}".format(PX(ax_), PY(ay_), PX(hx), PY(hy),
                                                                 PX(bx_), PY(by_))
    shapes.append(dict(type="path", xref="paper", yref="paper", path=path,
                       line=dict(color=BLUE, width=4.5), layer="above"))

layout["annotations"] = annotations
layout["shapes"] = shapes
fig.update_layout(**layout)
fig.write_html("out.html")
